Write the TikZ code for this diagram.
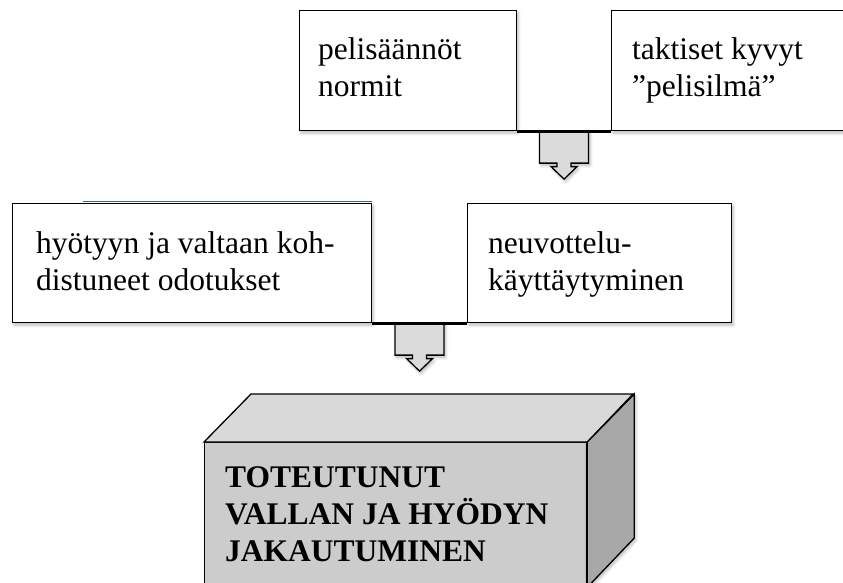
\documentclass[tikz,border=0pt]{standalone}
\usepackage{fontspec}
\setmainfont{Liberation Serif}
\usetikzlibrary{calc,shadows.blur}

\definecolor{arrowgray}{gray}{0.86}
\definecolor{frontgray}{gray}{0.80}
\definecolor{topgray}{gray}{0.85}
\definecolor{sidegray}{gray}{0.66}
\definecolor{edgeblue}{rgb}{0.24,0.36,0.56}

\tikzset{
  softshadow/.style={blur shadow={shadow xshift=1.5pt, shadow yshift=-2.5pt,
      shadow blur steps=6, shadow blur radius=3pt, shadow opacity=28}},
  box/.style={draw=black, line width=1.1pt, fill=white, rectangle,
      anchor=north west, inner sep=0pt, softshadow},
  boxtext/.style={anchor=base west, inner sep=0pt,
      font=\fontsize{31.5}{37}\selectfont\rmfamily},
  joint/.style={line width=3pt, line cap=butt},
  face/.style={draw=black, line width=1.3pt, line join=miter},
  pics/downarrow/.style={code={
    \draw[line width=1.3pt, fill=arrowgray, line join=miter, softshadow]
      (-24.5,0) -- (24.5,0) -- (24.5,32) -- (7,32) -- (7,35.5) -- (13,35.5)
      -- (0,48) -- (-13,35.5) -- (-7,35.5) -- (-7,32) -- (-24.5,32) -- cycle;
  }}
}

\begin{document}
\begin{tikzpicture}[x=1pt,y=-1pt]
\useasboundingbox (0,0) rectangle (843,583);
\clip (0,0) rectangle (843,583);

% upper pair of boxes
\node[box, minimum width=217, minimum height=120] (rules) at (299,10) {};
\node[box, minimum width=250, minimum height=120] (tactics) at (611,10) {};
\node[boxtext] (rulestext) at ($(rules.north west)+(19,50)$)
  {\parbox[t]{12cm}{\raggedright pelisäännöt\\normit}};
\node[boxtext] (tacticstext) at ($(tactics.north west)+(21,50)$)
  {\parbox[t]{12cm}{\raggedright taktiset kyvyt\\”pelisilmä”}};

% lower pair of boxes
\node[box, minimum width=359, minimum height=119] (expect) at (12,203) {};
\node[box, minimum width=264, minimum height=119] (behave) at (467,203) {};
\draw[edgeblue, line width=0.9pt]
  ([xshift=71pt,yshift=1.3pt]expect.north west) -- ([yshift=1.3pt]expect.north east);
\node[boxtext] (expecttext) at ($(expect.north west)+(24,50)$)
  {\parbox[t]{14cm}{\raggedright hyötyyn ja valtaan koh-\\distuneet odotukset}};
\node[boxtext] (behavetext) at ($(behave.north west)+(21,50)$)
  {\parbox[t]{12cm}{\raggedright neuvottelu-\\käyttäytyminen}};

% junctions and block arrows
\coordinate (j1) at ($(rules.south east)!0.5!(tactics.south west)$);
\coordinate (j2) at ($(expect.south east)!0.5!(behave.south west)$);
\pic (arrowone) at (j1) {downarrow};
\pic (arrowtwo) at (j2) {downarrow};
\draw[joint] (rules.south east) -- (tactics.south west);
\draw[joint] (expect.south east) -- (behave.south west);

% result block
\node[face, fill=frontgray, anchor=north west, minimum width=382,
      minimum height=144, inner sep=0pt] (result) at (204,442) {};
\draw[face, fill=topgray] (result.north west) -- ++(47,-48) -- ++(382,0)
  -- (result.north east) -- cycle;
\draw[face, fill=sidegray, softshadow] (result.north east) -- ++(47,-48) -- ++(0,144)
  -- (result.south east) -- cycle;
\node[boxtext, font=\fontsize{31.5}{37}\selectfont\rmfamily\bfseries] (resulttext)
  at ($(result.north west)+(21,45)$)
  {\parbox[t]{16cm}{\raggedright TOTEUTUNUT\\VALLAN JA HYÖDYN\\JAKAUTUMINEN}};
\end{tikzpicture}
\end{document}
